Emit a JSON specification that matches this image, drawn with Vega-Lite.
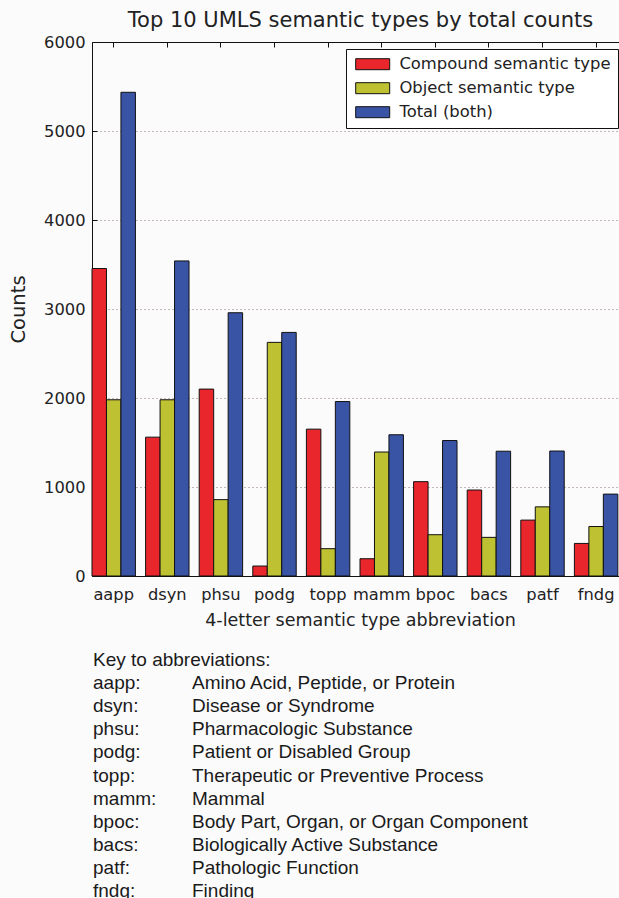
{
  "$schema": "https://vega.github.io/schema/vega-lite/v6.json",
  "autosize": {"type": "none"},
  "padding": {"left": 92, "top": 42, "right": 0, "bottom": 322},
  "background": "#fbfbfc",
  "width": 527,
  "height": 534,
  "config": {"view": {"stroke": null}},
  "title": {
    "text": "Top 10 UMLS semantic types by total counts",
    "font": "DejaVu Sans",
    "fontSize": 21,
    "fontWeight": "normal",
    "color": "#222222",
    "anchor": "middle",
    "frame": "group",
    "baseline": "alphabetic",
    "offset": 15,
    "dx": 5,
    "dy": 29
  },
  "datasets": {
    "counts": [
      {"abbr": "aapp", "series": "Compound semantic type", "count": 3455},
      {"abbr": "aapp", "series": "Object semantic type", "count": 1980},
      {"abbr": "aapp", "series": "Total (both)", "count": 5435},
      {"abbr": "dsyn", "series": "Compound semantic type", "count": 1560},
      {"abbr": "dsyn", "series": "Object semantic type", "count": 1980},
      {"abbr": "dsyn", "series": "Total (both)", "count": 3540},
      {"abbr": "phsu", "series": "Compound semantic type", "count": 2100},
      {"abbr": "phsu", "series": "Object semantic type", "count": 858},
      {"abbr": "phsu", "series": "Total (both)", "count": 2958},
      {"abbr": "podg", "series": "Compound semantic type", "count": 112},
      {"abbr": "podg", "series": "Object semantic type", "count": 2625},
      {"abbr": "podg", "series": "Total (both)", "count": 2737},
      {"abbr": "topp", "series": "Compound semantic type", "count": 1650},
      {"abbr": "topp", "series": "Object semantic type", "count": 307},
      {"abbr": "topp", "series": "Total (both)", "count": 1960},
      {"abbr": "mamm", "series": "Compound semantic type", "count": 194},
      {"abbr": "mamm", "series": "Object semantic type", "count": 1393},
      {"abbr": "mamm", "series": "Total (both)", "count": 1587},
      {"abbr": "bpoc", "series": "Compound semantic type", "count": 1060},
      {"abbr": "bpoc", "series": "Object semantic type", "count": 464},
      {"abbr": "bpoc", "series": "Total (both)", "count": 1522},
      {"abbr": "bacs", "series": "Compound semantic type", "count": 966},
      {"abbr": "bacs", "series": "Object semantic type", "count": 434},
      {"abbr": "bacs", "series": "Total (both)", "count": 1402},
      {"abbr": "patf", "series": "Compound semantic type", "count": 628},
      {"abbr": "patf", "series": "Object semantic type", "count": 777},
      {"abbr": "patf", "series": "Total (both)", "count": 1404},
      {"abbr": "fndg", "series": "Compound semantic type", "count": 366},
      {"abbr": "fndg", "series": "Object semantic type", "count": 556},
      {"abbr": "fndg", "series": "Total (both)", "count": 920}
    ],
    "key": [
      {"order": 0, "abbr": "Key to abbreviations:", "desc": ""},
      {"order": 1, "abbr": "aapp:", "desc": "Amino Acid, Peptide, or Protein"},
      {"order": 2, "abbr": "dsyn:", "desc": "Disease or Syndrome"},
      {"order": 3, "abbr": "phsu:", "desc": "Pharmacologic Substance"},
      {"order": 4, "abbr": "podg:", "desc": "Patient or Disabled Group"},
      {"order": 5, "abbr": "topp:", "desc": "Therapeutic or Preventive Process"},
      {"order": 6, "abbr": "mamm:", "desc": "Mammal"},
      {"order": 7, "abbr": "bpoc:", "desc": "Body Part, Organ, or Organ Component"},
      {"order": 8, "abbr": "bacs:", "desc": "Biologically Active Substance"},
      {"order": 9, "abbr": "patf:", "desc": "Pathologic Function"},
      {"order": 10, "abbr": "fndg:", "desc": "Finding"}
    ]
  },
  "resolve": {"scale": {"x": "independent", "y": "independent"}, "axis": {"x": "independent", "y": "independent"}},
  "layer": [
    {
      "data": {"name": "counts"},
      "layer": [
        {
          "mark": {"type": "bar", "stroke": "#111111", "strokeWidth": 1},
          "encoding": {
            "x": {
              "field": "abbr",
              "type": "nominal",
              "sort": null,
              "scale": {"paddingInner": 0.19, "paddingOuter": 0.011, "align": 0},
              "axis": {
                "orient": "bottom",
                "labelAngle": 0,
                "labelFont": "DejaVu Sans",
                "labelFontSize": 16.3,
                "labelColor": "#222222",
                "labelPadding": 15,
                "tickSize": -5,
                "tickColor": "#111111",
                "domainColor": "#111111",
                "title": "4-letter semantic type abbreviation",
                "titleFont": "DejaVu Sans",
                "titleFontSize": 17.5,
                "titleFontWeight": "normal",
                "titleColor": "#222222",
                "titlePadding": 9,
                "titleX": 268
              }
            },
            "xOffset": {
              "field": "series",
              "type": "nominal",
              "sort": null,
              "scale": {"paddingInner": 0, "paddingOuter": 0}
            },
            "y": {
              "field": "count",
              "type": "quantitative",
              "scale": {"domain": [0, 6000], "nice": false},
              "axis": {
                "orient": "left",
                "values": [0, 1000, 2000, 3000, 4000, 5000, 6000],
                "format": "d",
                "labelFont": "DejaVu Sans",
                "labelFontSize": 16.3,
                "labelColor": "#222222",
                "labelPadding": 12,
                "tickSize": -5,
                "tickColor": "#111111",
                "domainColor": "#111111",
                "grid": true,
                "gridDash": [1, 3],
                "gridColor": "#8a7373",
                "gridWidth": 1,
                "title": "Counts",
                "titleFont": "DejaVu Sans",
                "titleFontSize": 19.5,
                "titleFontWeight": "normal",
                "titleColor": "#222222",
                "titlePadding": 15
              }
            },
            "color": {
              "field": "series",
              "type": "nominal",
              "sort": null,
              "scale": {
                "domain": ["Compound semantic type", "Object semantic type", "Total (both)"],
                "range": ["#e8262c", "#bec132", "#3953a5"]
              },
              "legend": {
                "title": null,
                "orient": "none",
                "legendX": 254,
                "legendY": 7,
                "symbolType": "M-1,-1H5.18V1H-1Z",
                "symbolSize": 121,
                "symbolStrokeColor": "#111111",
                "symbolStrokeWidth": 1,
                "symbolOpacity": 1,
                "labelFont": "DejaVu Sans",
                "labelFontSize": 16.4,
                "labelColor": "#222222",
                "labelOffset": 30,
                "labelLimit": 400,
                "rowPadding": 7,
                "padding": 7,
                "strokeColor": "#111111",
                "fillColor": "#ffffff",
                "cornerRadius": 0
              }
            }
          }
        },
        {
          "mark": {"type": "rule", "opacity": 0},
          "encoding": {
            "x": {
              "field": "abbr",
              "type": "nominal",
              "sort": null,
              "axis": {
                "orient": "top",
                "labels": false,
                "title": null,
                "grid": false,
                "tickSize": -5,
                "tickColor": "#111111",
                "domainColor": "#111111"
              }
            }
          }
        }
      ]
    },
    {
      "data": {"name": "key"},
      "transform": [{"fold": ["abbr", "desc"], "as": ["col", "text"]}],
      "mark": {
        "type": "text",
        "align": "left",
        "baseline": "middle",
        "font": "Liberation Sans",
        "fontSize": 19,
        "color": "#1a1a1a"
      },
      "encoding": {
        "x": {"field": "col", "type": "nominal", "scale": {"type": "point", "padding": 0, "range": [1, 100]}, "axis": null},
        "y": {"field": "order", "type": "ordinal", "scale": {"type": "point", "padding": 0, "range": [618, 849]}, "axis": null},
        "text": {"field": "text"}
      }
    }
  ]
}
